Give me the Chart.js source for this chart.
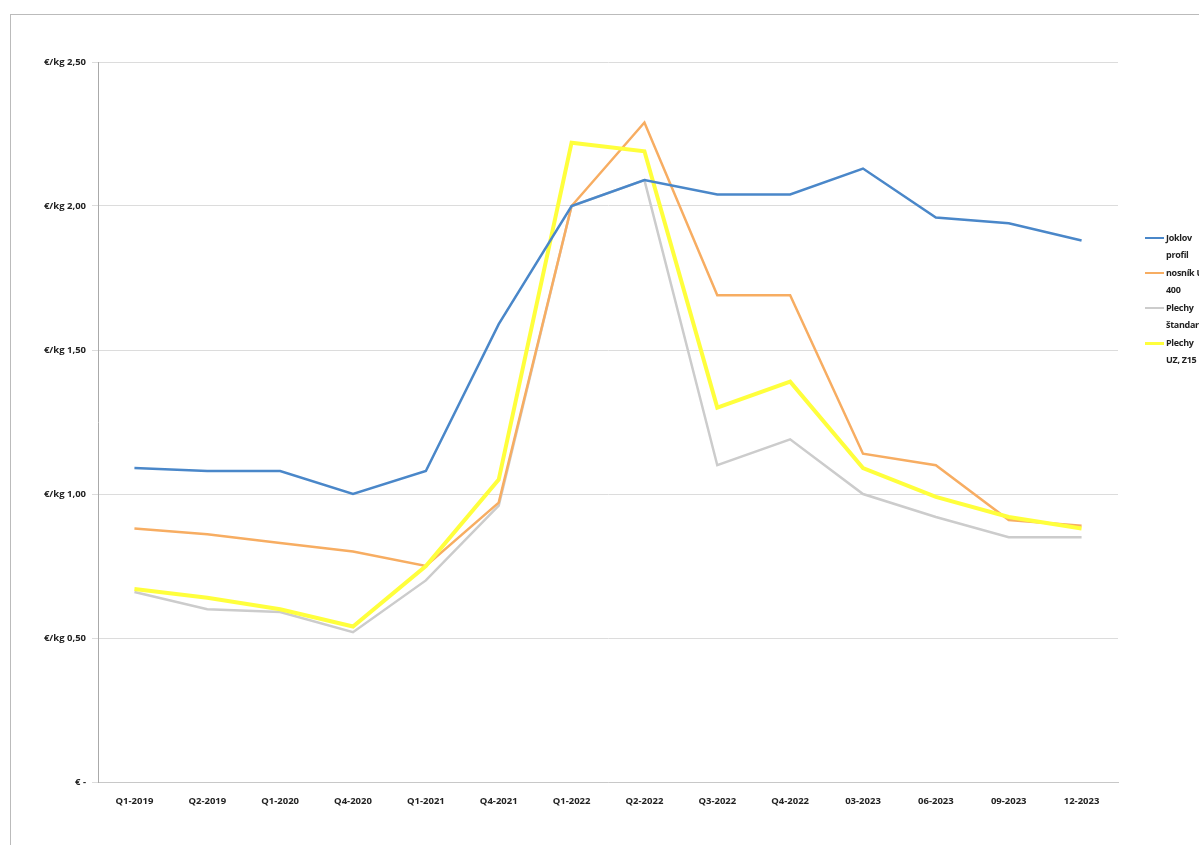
<!DOCTYPE html>
<html>
<head>
<meta charset="utf-8">
<script src="https://cdn.jsdelivr.net/npm/chart.js@4.4.0/dist/chart.umd.min.js"></script>
<style>
  html, body { margin: 0; padding: 0; background: #fff; }
  #wrap { position: relative; width: 1199px; height: 845px; }
  #frame { position: absolute; left: 10px; top: 14px; right: -2px; bottom: -2px; border-left: 1px solid #bbb; border-top: 1px solid #bbb; }
  #legend { position: absolute; left: 1145px; top: 229px; font-family: 'Open Sans', sans-serif; font-weight: bold; font-size: 9px; letter-spacing: -0.3px; color: #222; }
  .item { position: relative; height: 35px; white-space: nowrap; }
  .mark { position: absolute; left: 0; top: 8px; width: 19px; }
  .txt { position: absolute; left: 21px; top: 0; line-height: 17px; width: 40px; }
</style>
</head>
<body>
<div id="wrap">
  <div id="frame"></div>
  <canvas id="chart" width="1199" height="845"></canvas>
  <div id="legend"></div>
</div>
<script>
const categories = ['Q1-2019', 'Q2-2019', 'Q1-2020', 'Q4-2020', 'Q1-2021', 'Q4-2021', 'Q1-2022', 'Q2-2022', 'Q3-2022', 'Q4-2022', '03-2023', '06-2023', '09-2023', '12-2023'];
const joklovProfil = [1.09, 1.08, 1.08, 1.00, 1.08, 1.59, 2.00, 2.09, 2.04, 2.04, 2.13, 1.96, 1.94, 1.88];
const nosnikU400 = [0.88, 0.86, 0.83, 0.80, 0.75, 0.97, 2.00, 2.29, 1.69, 1.69, 1.14, 1.10, 0.91, 0.89];
const plechyStandard = [0.66, 0.60, 0.59, 0.52, 0.70, 0.96, 2.00, 2.09, 1.10, 1.19, 1.00, 0.92, 0.85, 0.85];
const plechyUZ = [0.67, 0.64, 0.60, 0.54, 0.75, 1.05, 2.22, 2.19, 1.30, 1.39, 1.09, 0.99, 0.92, 0.88];
const legendNames = [['Joklov', 'profil'], ['nosník U', '400'], ['Plechy', 'štandard'], ['Plechy', 'UZ, Z15']];

const colors = ['#4a87c9', '#f7ad62', '#cccccc', '#ffff3c'];
const widths = [2.5, 2.5, 2.5, 4];
const seriesData = [joklovProfil, nosnikU400, plechyStandard, plechyUZ];

const datasets = seriesData.map((d, i) => ({
  label: legendNames[i].join(' '),
  data: d,
  borderColor: colors[i],
  backgroundColor: colors[i],
  borderWidth: widths[i],
  pointRadius: 0,
  tension: 0,
  order: [1, 3, 4, 2][i]
}));

const font = { family: "'Open Sans', sans-serif", size: 9.5, weight: 'bold' };

new Chart(document.getElementById('chart'), {
  type: 'line',
  data: { labels: categories, datasets },
  options: {
    responsive: false,
    animation: false,
    layout: { padding: { top: 62, right: 81, left: 0, bottom: 0 } },
    plugins: { legend: { display: false }, tooltip: { enabled: false } },
    scales: {
      x: {
        offset: true,
        grid: { display: false, drawTicks: true, tickLength: 4 },
        border: { color: '#c8c8c8' },
        ticks: { color: '#222', font, padding: 10, maxRotation: 0, autoSkip: false },
        afterFit: (s) => { s.height = 63; }
      },
      y: {
        min: 0,
        max: 2.5,
        ticks: {
          stepSize: 0.5,
          color: '#222',
          font,
          padding: 6,
          callback: (v) => v === 0 ? '€ -' : '€/kg ' + v.toFixed(2).replace('.', ',')
        },
        grid: { color: '#dcdcdc', tickLength: 6 },
        border: { color: '#aaaaaa' },
        afterFit: (s) => { s.width = 98; }
      }
    }
  }
});

document.getElementById('legend').innerHTML = legendNames.map((n, i) => `
  <div class="item">
    <div class="mark" style="border-top:${Math.min(widths[i], 3)}px solid ${colors[i]}"></div>
    <div class="txt">${n[0]}<br>${n[1]}</div>
  </div>`).join('');
</script>
</body>
</html>
